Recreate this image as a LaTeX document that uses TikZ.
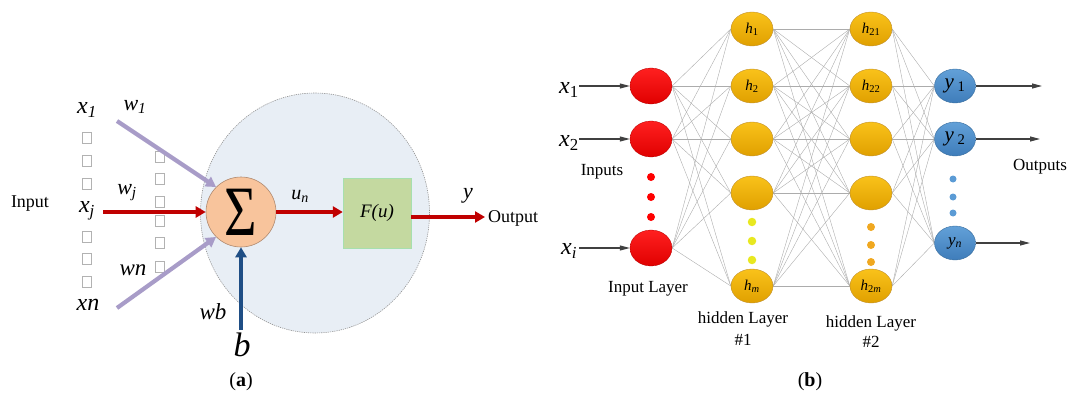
\documentclass[tikz,border=0pt]{standalone}
\usepackage{fontspec}
\usepackage{graphicx}
\setmainfont{Liberation Serif}
\usetikzlibrary{arrows.meta,shapes.geometric}
\pgfdeclarelayer{bg}
\pgfsetlayers{bg,main}
\newcommand\FS[1]{\fontsize{#1}{#1}\selectfont}
\definecolor{cellbg}{HTML}{E8EEF5}
\definecolor{peach}{HTML}{F8C49C}
\definecolor{peachd}{HTML}{B08A70}
\definecolor{boxg}{HTML}{C4D9A0}
\definecolor{lav}{HTML}{A89CC8}
\definecolor{darkred}{HTML}{C00000}
\definecolor{navy}{HTML}{1F4E85}
\definecolor{redtop}{HTML}{FF2020}
\definecolor{redbot}{HTML}{E00000}
\definecolor{ortop}{HTML}{F9C21A}
\definecolor{orbot}{HTML}{E0A000}
\definecolor{orline}{HTML}{C09030}
\definecolor{bltop}{HTML}{62A0D8}
\definecolor{blbot}{HTML}{3F7DBA}
\definecolor{blline}{HTML}{3A6E9E}
\definecolor{ydot}{HTML}{E8E820}
\definecolor{odot}{HTML}{F0A820}
\definecolor{bdot}{HTML}{5B9BD5}
\definecolor{arrg}{HTML}{404040}
\tikzset{
  lbl/.style={inner sep=0pt},
  tofu/.style={draw=gray!60, line width=0.6pt, minimum width=9pt, minimum height=11pt, inner sep=0pt},
  thickarrow/.style={line width=4.2pt, -{Triangle[length=10pt,width=11pt]}},
  conn/.style={draw=gray!65, line width=0.4pt},
  garrow/.style={draw=arrg, line width=1.1pt, -{Triangle[length=10pt,width=5pt]}},
  rednode/.style={ellipse, minimum width=42pt, minimum height=36pt, inner sep=0pt, top color=redtop, bottom color=redbot, draw=redbot!80!black, line width=0.3pt},
  hidnode/.style={ellipse, minimum width=42pt, minimum height=34pt, inner sep=0pt, top color=ortop, bottom color=orbot, draw=orline, line width=0.4pt, font=\FS{15}},
  outnode/.style={ellipse, minimum width=41pt, minimum height=34pt, inner sep=0pt, top color=bltop, bottom color=blbot, draw=blline, line width=0.4pt},
  dot/.style={circle, inner sep=0pt, minimum size=#1},
}
\begin{document}
\begin{tikzpicture}[x=1pt,y=-1pt]
\useasboundingbox (0,0) rectangle (1070,401);
% ---------------- panel (a) ----------------
\node[ellipse, minimum width=229pt, minimum height=240pt, fill=cellbg, draw=gray!85, dash pattern=on 1.2pt off 1pt, line width=0.6pt] (cell) at (315,213) {};
\node[circle, minimum size=70pt, inner sep=0pt, fill=peach, draw=peachd, line width=0.6pt] (sum) at (241,212) {\scalebox{0.93}[1.18]{\FS{60}Σ}};
\node[rectangle, minimum width=68pt, minimum height=70pt, fill=boxg, draw=boxg!85!cyan, line width=0.4pt] (F) at (377,213) {\FS{19}\textit{F(u)}};

% missing-glyph boxes
\foreach \y [count=\i] in {138,161,184,237,259,282}{\node[tofu] (ta\i) at (87,\y) {};}
\foreach \y [count=\i] in {157,179,202,221,243,267}{\node[tofu] (tb\i) at (160,\y) {};}

\node[lbl, font=\FS{18}] (input) at (30,204) {Input};
\node[lbl, font=\FS{24}] (x1) at (87,110) {\textit{x\textsubscript{1}}};
\node[lbl, font=\FS{24}] (xj) at (87,211) {\textit{x\textsubscript{j}}};
\node[lbl, font=\FS{24}] (xn) at (88,305) {\textit{xn}};
\node[lbl, font=\FS{22}] (w1) at (135,107) {\textit{w\textsubscript{1}}};
\node[lbl, font=\FS{22}] (wj) at (127,193) {\textit{w\textsubscript{j}}};
\node[lbl, font=\FS{23}] (wn) at (133,270) {\textit{wn}};
\node[lbl, font=\FS{23}] (wb) at (213,312) {\textit{wb}};
\node[lbl, font=\FS{34}] (b) at (242,345) {\textit{b}};
\node[lbl, font=\FS{20}] (un) at (300,196) {\textit{u\textsubscript{n}}};
\node[lbl, font=\FS{22}] (y) at (468,196) {\textit{y}};
\node[lbl, font=\FS{18}, anchor=west] (output) at (488,218) {Output};

\coordinate (p1) at (117,121);
\coordinate (pj) at (103,212);
\coordinate (pn) at (117,308);
\coordinate (pb) at (241,330);
\coordinate (oute) at (485,217);
\draw[thickarrow, lav] (p1) -- (sum.north west);
\draw[thickarrow, darkred] (pj) -- (sum.west);
\draw[thickarrow, lav] (pn) -- (sum.south west);
\draw[thickarrow, navy] (pb) -- (sum.south);
\draw[thickarrow, darkred] (sum.east) -- (sum.east -| F.west);
\draw[thickarrow, darkred] (F.east |- oute) -- (oute);

\node[lbl, font=\FS{20}] (capa) at (241,382) {(\textbf{a})};

% ---------------- panel (b) ----------------
\node[rednode] (I1) at (651,86) {};
\node[rednode] (I2) at (651,139) {};
\node[rednode] (I3) at (651,248) {};
\node[hidnode] (A1) at (752,29) {\textit{h}\textsubscript{1}};
\node[hidnode] (A2) at (752,86) {\textit{h}\textsubscript{2}};
\node[hidnode] (A3) at (752,139) {};
\node[hidnode] (A4) at (752,193) {};
\node[hidnode] (A5) at (752,286) {\textit{h}\textsubscript{\textit{m}}};
\node[hidnode] (B1) at (871,29) {\textit{h}\textsubscript{21}};
\node[hidnode] (B2) at (871,86) {\textit{h}\textsubscript{22}};
\node[hidnode] (B3) at (871,139) {};
\node[hidnode] (B4) at (871,193) {};
\node[hidnode] (B5) at (871,286) {\textit{h}\textsubscript{2\textit{m}}};
\node[outnode] (O1) at (955,86) {\FS{21}\textit{y}\,\textsubscript{1}};
\node[outnode] (O2) at (955,139) {\FS{21}\textit{y}\,\textsubscript{2}};
\node[outnode] (O3) at (955,243) {\FS{17}\textit{y}\textsubscript{\textit{n}}};

\begin{pgfonlayer}{bg}
\foreach \a in {1,2,3}{\foreach \b in {1,...,5}{\draw[conn] (I\a.east) -- (A\b.west);}}
\foreach \a in {1,...,5}{\foreach \b in {1,...,5}{\draw[conn] (A\a.east) -- (B\b.west);}}
\foreach \a in {1,...,5}{\foreach \b in {1,2,3}{\draw[conn] (B\a.east) -- (O\b.west);}}
\end{pgfonlayer}

\foreach \y [count=\i] in {177,197,217}{\node[dot=8pt, fill=red] (rd\i) at (651,\y) {};}
\foreach \y [count=\i] in {222,241,260}{\node[dot=8.5pt, fill=ydot] (yd\i) at (752,\y) {};}
\foreach \y [count=\i] in {227,245,262}{\node[dot=8pt, fill=odot] (od\i) at (871,\y) {};}
\foreach \y [count=\i] in {179,197,213}{\node[dot=7pt, fill=bdot] (bd\i) at (953,\y) {};}

\node[lbl, font=\FS{24}] (lx1) at (569,90) {\textit{x}\textsubscript{1}};
\node[lbl, font=\FS{24}] (lx2) at (569,143) {\textit{x}\textsubscript{2}};
\node[lbl, font=\FS{24}] (lxi) at (569,251) {\textit{x}\textsubscript{\textit{i}}};
\coordinate (s1) at (579,86);
\coordinate (s2) at (579,139);
\coordinate (s3) at (579,248);
\draw[garrow] (s1) -- (I1.west);
\draw[garrow] (s2) -- (I2.west);
\draw[garrow] (s3) -- (I3.west);
\coordinate (e1) at (1042,86);
\coordinate (e2) at (1040,139);
\coordinate (e3) at (1030,243);
\draw[garrow] (O1.east) -- (e1);
\draw[garrow] (O2.east) -- (e2);
\draw[garrow] (O3.east) -- (e3);

\node[lbl, font=\FS{17}] (inputs) at (602,172) {Inputs};
\node[lbl, font=\FS{17}] (inlayer) at (648,289) {Input Layer};
\node[lbl, font=\FS{17}] (hl1) at (743,319) {hidden Layer};
\node[lbl, font=\FS{17}] (hn1) at (743,340) {\#1};
\node[lbl, font=\FS{17}] (hl2) at (871,323) {hidden Layer};
\node[lbl, font=\FS{17}] (hn2) at (871,342) {\#2};
\node[lbl, font=\FS{17}] (outputs) at (1040,167) {Outputs};

\node[lbl, font=\FS{20}] (capb) at (810,382) {(\textbf{b})};
\end{tikzpicture}
\end{document}
